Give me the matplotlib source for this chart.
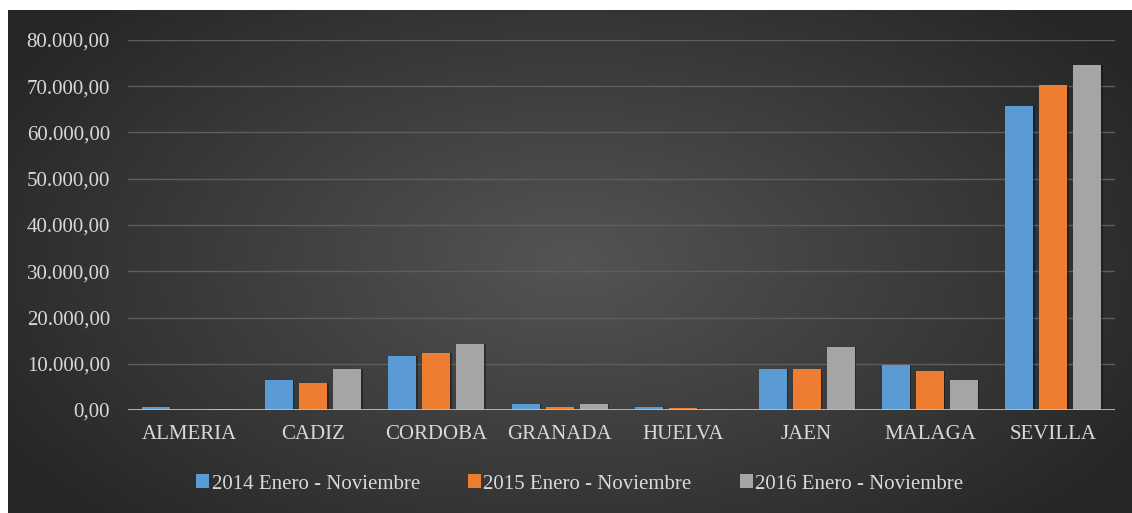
import numpy as np
from matplotlib import pyplot as plt
from matplotlib.ticker import FuncFormatter

provincias = ['ALMERIA', 'CADIZ', 'CORDOBA', 'GRANADA', 'HUELVA', 'JAEN', 'MALAGA', 'SEVILLA']
series = ['2014 Enero - Noviembre', '2015 Enero - Noviembre', '2016 Enero - Noviembre']
v2014 = [600, 6500, 11700, 1300, 600, 8800, 9650, 65800]
v2015 = [100, 5900, 12250, 700, 400, 8800, 8500, 70250]
v2016 = [150, 8800, 14200, 1300, 300, 13550, 6500, 74700]
colores = ['#5b9bd5', '#ed7d31', '#a5a5a5']
texto = '#d9d9d9'


def fmt_es(v, pos):
    # formato espanol: punto de miles, coma decimal
    s = '{:,.2f}'.format(v)
    return s.replace(',', 'X').replace('.', ',').replace('X', '.')


fig = plt.figure(figsize=(11.32, 5.13), dpi=100)
fig.patch.set_facecolor('white')

# fondo con degradado radial
bg = fig.add_axes([8 / 1132, 0, 1 - 8 / 1132, 1 - 10 / 513])
yy, xx = np.mgrid[-1:1:300j, -1:1:600j]
r = np.sqrt((xx / 1.05) ** 2 + (yy / 1.3) ** 2)
g = np.clip(0.33 - 0.16 * r, 0.15, 0.35)
bg.imshow(np.dstack([g, g, g]), aspect='auto', extent=[0, 1, 0, 1])
bg.set_axis_off()

ax = fig.add_axes([128 / 1132, 103 / 513, 987 / 1132, 370 / 513])
ax.patch.set_alpha(0)

x = np.arange(len(provincias))
ancho = 0.227
paso = 0.276
for i, (vals, c, nombre) in enumerate(zip([v2014, v2015, v2016], colores, series)):
    pos = x + (i - 1) * paso
    # sombra
    ax.bar(pos + 0.012, vals, ancho, color='black', alpha=0.35, zorder=2)
    ax.bar(pos, vals, ancho, color=c, label=nombre, zorder=3)

ax.set_xlim(-0.5, len(provincias) - 0.5)
ax.set_ylim(0, 80000)
ax.set_yticks(np.arange(0, 80001, 10000))
ax.yaxis.set_major_formatter(FuncFormatter(fmt_es))
ax.set_xticks(x)
ax.set_xticklabels(provincias)
ax.grid(axis='y', color='#5e5e5e', linewidth=1, zorder=0)
ax.axhline(0, color='#bfbfbf', linewidth=2, zorder=4)
for s in ax.spines.values():
    s.set_visible(False)
ax.tick_params(length=0, colors=texto, labelsize=15)
ax.tick_params(axis='y', pad=13)
ax.tick_params(axis='x', pad=11)
for lab in ax.get_xticklabels() + ax.get_yticklabels():
    lab.set_fontfamily('Liberation Serif')
    lab.set_color(texto)

leg = fig.legend(loc='center', bbox_to_anchor=(0.512, 1 - 484 / 513), ncol=3, frameon=False,
                 prop={'family': 'Liberation Serif', 'size': 15}, handlelength=0.65,
                 handleheight=0.65, handletextpad=0.1, columnspacing=2.3)
for t in leg.get_texts():
    t.set_color(texto)

plt.savefig('out.png', dpi=100, facecolor=fig.get_facecolor())
